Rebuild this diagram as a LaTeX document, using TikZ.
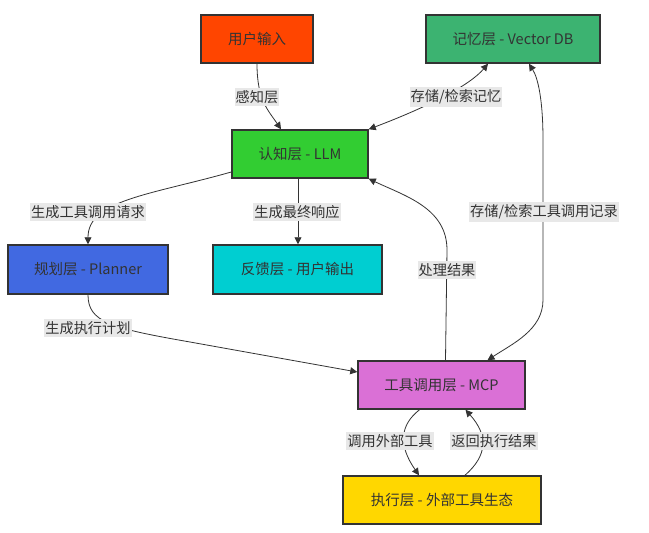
\documentclass[tikz,border=0pt]{standalone}
\usepackage{fontspec}
\setmainfont{Noto Sans CJK SC}
\usetikzlibrary{arrows.meta}
\definecolor{edgec}{HTML}{333333}
\definecolor{labbg}{HTML}{E8E8E8}
\definecolor{cUser}{HTML}{FF4500}
\definecolor{cMem}{HTML}{3CB371}
\definecolor{cLLM}{HTML}{32CD32}
\definecolor{cPlan}{HTML}{4169E1}
\definecolor{cFb}{HTML}{00CED1}
\definecolor{cMcp}{HTML}{DA70D6}
\definecolor{cExec}{HTML}{FFD700}
\tikzset{
  box/.style={draw=edgec, line width=1.5pt, inner sep=0pt, text=edgec,
    font=\fontsize{14.5}{17}\selectfont},
  conn/.style={draw=edgec, line width=0.8pt, -{Triangle[length=7pt,width=7pt]}},
  biconn/.style={draw=edgec, line width=0.8pt, {Triangle[length=7pt,width=7pt]}-{Triangle[length=7pt,width=7pt]}},
  lab/.style={fill=labbg, text=edgec, inner xsep=1pt, inner ysep=2.5pt,
    font=\fontsize{14.2}{16}\selectfont},
}
\begin{document}
\begin{tikzpicture}[x=1pt,y=-1pt]
\useasboundingbox[fill=white] (0,0) rectangle (649,533);
% nodes
\node[box, fill=cUser, minimum width=112pt, minimum height=48pt] (user) at (257,39) {用户输入};
\node[box, fill=cMem, minimum width=174pt, minimum height=48pt] (mem) at (513,39) {记忆层 - Vector DB};
\node[box, fill=cLLM, minimum width=136pt, minimum height=48pt] (llm) at (300,154) {认知层 - LLM};
\node[box, fill=cPlan, minimum width=160pt, minimum height=49pt] (plan) at (88,269.5) {规划层 - Planner};
\node[box, fill=cFb, minimum width=169pt, minimum height=49pt] (fb) at (297.5,269.5) {反馈层 - 用户输出};
\node[box, fill=cMcp, minimum width=167pt, minimum height=48pt] (mcp) at (441.5,385) {工具调用层 - MCP};
\node[box, fill=cExec, minimum width=198pt, minimum height=48pt] (exec) at (442,500) {执行层 - 外部工具生态};
% connectors
\draw[conn] (user.south) .. controls (257,100) and (268,110) .. ([xshift=-19pt]llm.north);
\draw[biconn] (llm.north east) .. controls (430,106) and (470,85) .. ([xshift=-25pt]mem.south);
\draw[conn] ([yshift=-18pt]llm.west) .. controls (150,195) and (88,200) .. (plan.north);
\draw[conn] ([xshift=-2pt]llm.south) -- ([xshift=0.5pt]fb.north);
\draw[conn] (plan.south) .. controls (88,322) and (110,328) .. (190,342) -- ([yshift=13pt]mcp.west);
\draw[conn] ([xshift=4pt]mcp.north) -- (447,250) .. controls (447,208) and (405,196) .. (llm.south east);
\draw[biconn] ([xshift=16pt]mem.south) .. controls (538,78) and (543,100) .. (543,140) -- (543,300) .. controls (543,330) and (512,344) .. ([xshift=46pt]mcp.north);
\draw[conn] ([xshift=-22pt]mcp.south) .. controls (400,425) and (398,445) .. ([xshift=-23pt]exec.north);
\draw[conn] ([xshift=23pt]exec.north) .. controls (488,455) and (488,435) .. ([xshift=24pt]mcp.south);
% labels
\node[lab] (l1) at (257,97) {感知层};
\node[lab] (l2) at (456,97) {存储/检索记忆};
\node[lab] (l3) at (88,212) {生成工具调用请求};
\node[lab] (l4) at (297,212) {生成最终响应};
\node[lab] (l5) at (88,328) {生成执行计划};
\node[lab] (l6) at (447,270) {处理结果};
\node[lab] (l7) at (544,212) {存储/检索工具调用记录};
\node[lab] (l8) at (390,441) {调用外部工具};
\node[lab] (l9) at (494,441) {返回执行结果};
\end{tikzpicture}
\end{document}
